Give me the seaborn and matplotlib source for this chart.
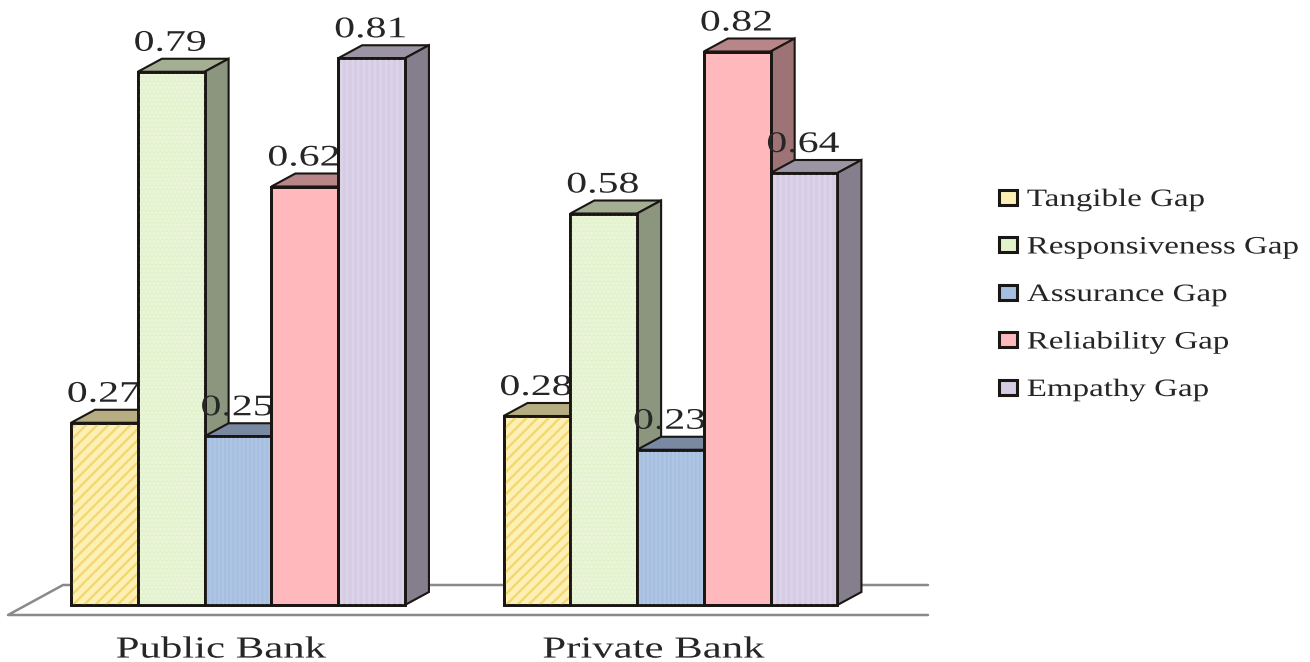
import matplotlib
matplotlib.use("Agg")
import matplotlib.pyplot as plt
from matplotlib.colors import to_rgb
from matplotlib.patches import Polygon, Rectangle
from matplotlib.patheffects import AbstractPathEffect
from matplotlib.transforms import Affine2D
import pandas as pd
import seaborn as sns

banks = ["Public Bank", "Private Bank"]
gaps = ["Tangible Gap", "Responsiveness Gap", "Assurance Gap", "Reliability Gap", "Empathy Gap"]
public_values = [0.27, 0.79, 0.25, 0.62, 0.81]
private_values = [0.28, 0.58, 0.23, 0.82, 0.64]
palette = ["#FDF0B4", "#E2F2CC", "#A6BEDF", "#FFB9BD", "#D6CDE4"]
textures = ["///", "....", "||||", "", "|||"]
texture_colors = ["#F4D772", "#EDF7DE", "#AEC5E3", "#FFB9BD", "#DCD4E9"]

W, H = 1310, 662
PX_PER_UNIT = 675.0      # pixels for one unit of value
PX_PER_GROUP = 432.5     # pixels between the two bank groups
DEPTH_X, DEPTH_Y = 24, 13  # oblique offset of the extruded bar faces, pixels
INK = "#1a1614"
TEXT = "#262626"
SERIF = "Liberation Serif"


class WideGlyphs(AbstractPathEffect):
    """Draws text widened horizontally, about its centre or its left end."""

    def __init__(self, factor, anchor="center"):
        super().__init__()
        self.factor = factor
        self.anchor = anchor

    def draw_path(self, renderer, gc, tpath, affine, rgbFace=None):
        box = tpath.get_extents()
        origin = box.x0 if self.anchor == "left" else (box.x0 + box.x1) / 2
        widen = Affine2D().translate(-origin, 0).scale(self.factor, 1).translate(origin, 0)
        renderer.draw_path(gc, tpath, widen + affine, rgbFace)


plt.rcParams["hatch.linewidth"] = 1.7
sns.set_theme(style="white", rc={"font.family": SERIF})

df = pd.DataFrame({
    "Bank": [b for b in banks for _ in gaps],
    "Gap": gaps * 2,
    "Value": public_values + private_values,
})

fig = plt.figure(figsize=(W / 100, H / 100), dpi=100, facecolor="white")
# Plot area runs from the floor's left corner to its right end, with the value 0 on the bar feet.
ax = fig.add_axes([8 / W, (H - 605) / H, 920 / W, 605 / H])
sns.barplot(data=df, x="Bank", y="Value", hue="Gap", hue_order=gaps, order=banks,
            palette=palette, width=0.772, gap=0, saturation=1, dodge=True,
            edgecolor=INK, linewidth=2.0, errorbar=None, ax=ax)
ax.set_xlim((8 - 238) / PX_PER_GROUP, (928 - 238) / PX_PER_GROUP)
ax.set_ylim(0, 605 / PX_PER_UNIT)
ax.set(xlabel="", ylabel="", yticks=[])
sns.despine(ax=ax, left=True, bottom=True)
ax.patch.set_alpha(0)
ax.tick_params(axis="x", length=0, pad=22)
for tick in ax.get_xticklabels():
    tick.set_fontfamily(SERIF)
    tick.set_fontsize(22)
    tick.set_color(TEXT)
    tick.set_path_effects([WideGlyphs(1.40)])
    # Bank names sit on the floor's front edge, slightly left of their groups.
    tick.set_transform(tick.get_transform() + Affine2D().translate(-17, 0))

handles, labels = ax.get_legend_handles_labels()
ax.get_legend().remove()
legend = fig.legend(handles, labels, loc="upper left", bbox_to_anchor=(999 / W, 1 - 189 / H),
                    bbox_transform=fig.transFigure, frameon=False, fontsize=18,
                    handlelength=0.72, handleheight=0.56, handletextpad=0.40,
                    labelspacing=1.02, borderpad=0, borderaxespad=0)
for text in legend.get_texts():
    text.set_color(TEXT)
    text.set_fontfamily(SERIF)
    text.set_path_effects([WideGlyphs(1.32, anchor="left")])
for patch in legend.get_patches():
    patch.set_linewidth(2.2)

dx = DEPTH_X / PX_PER_GROUP
dy = DEPTH_Y / PX_PER_UNIT


def shade(color, factor):
    return tuple(c * factor for c in to_rgb(color))


# Floor of the pseudo-3D chart: a parallelogram open at its right end.
floor_front = -10 / PX_PER_UNIT
floor_back = 20 / PX_PER_UNIT
x_left, x_right = ax.get_xlim()
floor_x = [x_right, x_left + 55 / PX_PER_GROUP, x_left, x_right]
floor_y = [floor_back, floor_back, floor_front, floor_front]
ax.plot(floor_x, floor_y, color="#8a8a8a", lw=1.8, clip_on=False, zorder=1)

for order, (container, color, texture, tex_color) in enumerate(
        zip(ax.containers, palette, textures, texture_colors)):
    base_z = 3 + order
    for bar, value in zip(container, container.datavalues):
        x0, w, h = bar.get_x(), bar.get_width(), bar.get_height()
        x1 = x0 + w
        top = [(x0, h), (x0 + dx, h + dy), (x1 + dx, h + dy), (x1, h)]
        side = [(x1, 0), (x1 + dx, dy), (x1 + dx, h + dy), (x1, h)]
        ax.add_patch(Polygon(top, closed=True, facecolor=shade(color, 0.72), edgecolor=INK,
                             lw=1.5, zorder=base_z + 0.3, clip_on=False))
        ax.add_patch(Polygon(side, closed=True, facecolor=shade(color, 0.62), edgecolor=INK,
                             lw=1.5, zorder=base_z + 0.4, clip_on=False))
        bar.set_zorder(base_z + 0.5)
        bar.set_clip_on(False)
        if texture:
            ax.add_patch(Rectangle((x0, 0), w, h, fill=False, edgecolor=tex_color, hatch=texture,
                                   lw=0, zorder=base_z + 0.6, clip_on=False))
        ax.add_patch(Rectangle((x0, 0), w, h, fill=False, edgecolor=INK, lw=2.0,
                               zorder=base_z + 0.7, clip_on=False))
        # Each label sits behind the next bar of its group, over the previous one.
        ax.text(x0 + w / 2 - 1 / PX_PER_GROUP, h + dy + 8 / PX_PER_UNIT, f"{value:.2f}",
                ha="center", va="baseline", fontfamily=SERIF, fontsize=21.5, color=TEXT,
                zorder=base_z + 0.1, clip_on=False, path_effects=[WideGlyphs(1.40)])

fig.savefig("out.png", dpi=100)
